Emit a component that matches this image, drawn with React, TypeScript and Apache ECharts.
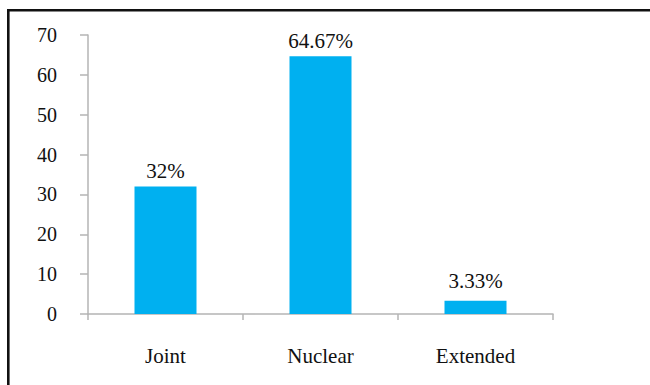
import React, { useEffect, useRef } from "react";
import * as echarts from "echarts";

// Family type distribution (percent of respondents)
const categories = ["Joint", "Nuclear", "Extended"];
const values = [32, 64.67, 3.33];
const yTicks = { min: 0, max: 70, interval: 10 };

const BAR_COLOR = "#00B0F0";
const AXIS_COLOR = "#b4b4b4";
const FONT = "Liberation Serif";

export default function App() {
  const ref = useRef<HTMLDivElement>(null);

  useEffect(() => {
    if (!ref.current) return;
    const chart = echarts.init(ref.current, undefined, { renderer: "svg" });
    chart.setOption({
      animation: false,
      backgroundColor: "#ffffff",
      textStyle: { fontFamily: FONT },
      grid: { left: 88, right: 97, top: 35, bottom: 71, containLabel: false },
      xAxis: {
        type: "category",
        data: categories,
        axisLine: { show: true, lineStyle: { color: AXIS_COLOR, width: 1.5 } },
        axisTick: { show: true, length: 6, lineStyle: { color: AXIS_COLOR, width: 1.5 } },
        axisLabel: { color: "#111", fontFamily: FONT, fontSize: 21, margin: 31 },
      },
      yAxis: {
        type: "value",
        min: yTicks.min,
        max: yTicks.max,
        interval: yTicks.interval,
        splitLine: { show: false },
        axisLine: { show: true, lineStyle: { color: AXIS_COLOR, width: 1.5 } },
        axisTick: { show: true, length: 8, lineStyle: { color: AXIS_COLOR, width: 1.5 } },
        axisLabel: { color: "#111", fontFamily: FONT, fontSize: 20, margin: 31 },
      },
      series: [
        {
          type: "bar",
          barWidth: 62,
          data: values.map((v, i) => ({
            value: v,
            label: { distance: i === 2 ? 9 : 5 },
          })),
          itemStyle: { color: BAR_COLOR },
          label: {
            show: true,
            position: "top",
            color: "#111",
            fontFamily: FONT,
            fontSize: 21,
            formatter: (p: any) => `${p.value}%`,
          },
        },
      ],
      // Frame: left and top edges of the surrounding box
      graphic: [
        {
          type: "line",
          silent: true,
          shape: { x1: 8.3, y1: 9, x2: 8.3, y2: 385 },
          style: { stroke: "#111", lineWidth: 2.6 },
        },
        {
          type: "line",
          silent: true,
          shape: { x1: 7, y1: 10.3, x2: 650, y2: 10.3 },
          style: { stroke: "#111", lineWidth: 2.6 },
        },
      ],
    });
    return () => chart.dispose();
  }, []);

  return (
    <div
      ref={ref}
      style={{ position: "absolute", left: 0, top: 0, width: 650, height: 385 }}
    />
  );
}
